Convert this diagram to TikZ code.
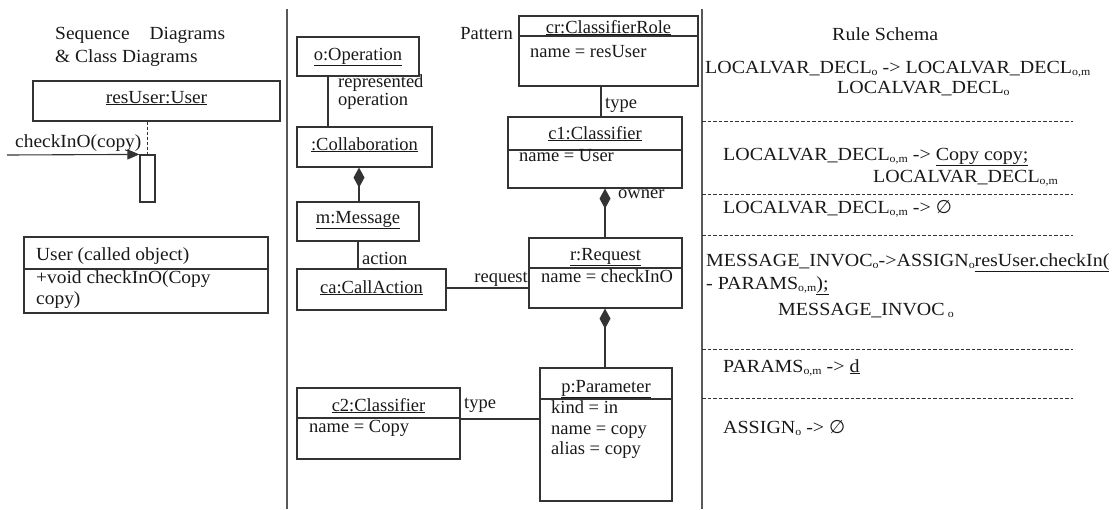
\documentclass[tikz,border=0pt]{standalone}
\usepackage{fontspec}
\setmainfont{Liberation Serif}
\newfontfamily\widefam{Liberation Serif}[FakeStretch=1.05]
\newfontfamily\widerfam{Liberation Serif}[FakeStretch=1.08]
\newfontfamily\symfam{DejaVu Sans}
\usetikzlibrary{arrows.meta,fit}

% body text size and small subscripts
\newcommand\fs{\fontsize{18.5}{21}\selectfont}
\newcommand\lsb[1]{\raisebox{-0.35ex}{\fontsize{11}{11}\selectfont #1}}
\newcommand\nullset{{\symfam ∅}}

\tikzset{
  every node/.style={font=\fs, inner sep=0pt, text=black!90},
  umlbox/.style={draw=black!80, line width=1.2pt, inner sep=0pt},
  txt/.style={anchor=base west},
  ctxt/.style={anchor=base},
  rtxt/.style={anchor=base east},
  link/.style={draw=black!80, line width=1.1pt},
  comp/.style={link, {Diamond[length=20pt,width=11pt]}-},
  sepline/.style={draw=black!65, line width=1.6pt},
  rulesep/.style={draw=black!80, line width=1pt, dash pattern=on 3.5pt off 2pt},
}

\begin{document}
\begin{tikzpicture}[x=1pt,y=-1pt]
\useasboundingbox (0,0) rectangle (1115,509);

% panel separators
\draw[sepline] (287,9) -- (287,509);
\draw[sepline] (702,9) -- (702,509);

% ---------- sequence and class diagram ----------
\begin{scope}[every node/.append style={font=\widefam\fs}]
\node[txt] (title1) at (55,39) {Sequence\hspace{20pt}Diagrams};
\node[txt] (title2) at (55,62) {\& Class Diagrams};

\node[umlbox, fit={(33,81) (280,121)}] (lifehead) {};
\node[ctxt] at (156.5,103) {\underline{resUser:User}};
\node[umlbox, fit={(140,155) (155,202)}] (act) {};
\draw[link, dash pattern=on 3pt off 2pt] (lifehead.south -| act.north) -- (act.north);
\coordinate (caller) at (7,155);
\draw[link, -{Triangle[length=12pt,width=10pt]}] (caller) -- (act.north west);
\node[txt] (msglbl) at (15,147) {checkInO(copy)};

\node[umlbox, fit={(24,237) (268,313)}] (userclass) {};
\draw[link] (userclass.west |- 0,269) -- (userclass.east |- 0,269);
\node[txt] at (36,260) {User (called object)};
\node[txt] at (36,283) {+void checkInO(Copy};
\node[txt] at (36,304) {copy)};
\end{scope}

% ---------- pattern ----------
\node[umlbox, fit={(297,37) (419,76)}] (op) {};
\node[ctxt] at (op.center |- 0,60) {\underline{o:Operation}};

\node[umlbox, fit={(297,127) (432,167)}] (collab) {};
\node[ctxt] at (collab.center |- 0,150) {\underline{:Collaboration}};

\node[umlbox, fit={(297,202) (419,241)}] (msg) {};
\node[ctxt] at (msg.center |- 0,223) {\underline{m:Message}};

\node[umlbox, fit={(297,269) (446,310)}] (call) {};
\node[ctxt] at (call.center |- 0,293) {\underline{ca:CallAction}};

\node[rtxt] (patlbl) at (513,39) {Pattern};
\node[umlbox, fit={(519,16) (698,86)}] (role) {};
\draw[link] (role.west |- 0,36) -- (role.east |- 0,36);
\node[ctxt] at (role.center |- 0,33) {\underline{cr:ClassifierRole}};
\node[txt] at (530,57) {name = resUser};

\node[umlbox, fit={(508,117) (682,188)}] (cls1) {};
\draw[link] (cls1.west |- 0,150) -- (cls1.east |- 0,150);
\node[ctxt] at (cls1.center |- 0,139) {\underline{c1:Classifier}};
\node[txt] at (519,161) {name = User};

\node[umlbox, fit={(529,238) (682,308)}] (req) {};
\draw[link] (req.west |- 0,268) -- (req.east |- 0,268);
\node[ctxt] at (req.center |- 0,260) {\underline{r:Request}};
\node[txt] at (541,282) {name = checkInO};

\node[umlbox, fit={(540,368) (672,501)}] (param) {};
\draw[link] (param.west |- 0,399) -- (param.east |- 0,399);
\node[ctxt] at (param.center |- 0,392) {\underline{p:Parameter}};
\node[txt] at (551,413) {kind = in};
\node[txt] at (551,434) {name = copy};
\node[txt] at (551,454) {alias = copy};

\node[umlbox, fit={(297,388) (460,459)}] (cls2) {};
\draw[link] (cls2.west |- 0,418) -- (cls2.east |- 0,418);
\node[ctxt] at (cls2.center |- 0,411) {\underline{c2:Classifier}};
\node[txt] at (309,432) {name = Copy};

% pattern links
\draw[link] (op.south -| 328,0) -- (collab.north -| 328,0);
\node[txt] at (338,87) {represented};
\node[txt] at (338,105) {operation};
\draw[comp] (collab.south -| 359,0) -- (msg.north -| 359,0);
\draw[link] (msg.south -| 358,0) -- (call.north -| 358,0);
\node[txt] at (362,264) {action};
\draw[link] (call.east |- 0,288) -- (req.west |- 0,288);
\node[rtxt] at (528,282) {request};
\draw[link] (role.south -| 601,0) -- (cls1.north -| 601,0);
\node[txt] at (605,108) {type};
\draw[comp] (cls1.south -| 605,0) -- (req.north -| 605,0);
\node[txt] at (618,198) {owner};
\draw[comp] (req.south -| 605,0) -- (param.north -| 605,0);
\draw[link] (cls2.east |- 0,419) -- (param.west |- 0,419);
\node[txt] at (464,408) {type};

% ---------- rule schema ----------
\begin{scope}[every node/.append style={font=\widerfam\fs}]
\node[txt] at (832,40) {Rule Schema};
\node[txt] at (705,73) {LOCALVAR\_DECL\lsb{o} -> LOCALVAR\_DECL\lsb{o,m}};
\node[txt] at (837,93) {LOCALVAR\_DECL\lsb{o}};
\draw[rulesep] (702,121) -- (1073,121);
\node[txt] at (723,160) {LOCALVAR\_DECL\lsb{o,m} -> \underline{Copy copy;}};
\node[txt] at (873,182) {LOCALVAR\_DECL\lsb{o,m}};
\draw[rulesep] (702,194) -- (1073,194);
\node[txt] at (723,213) {LOCALVAR\_DECL\lsb{o,m} -> \nullset};
\draw[rulesep] (702,235) -- (1073,235);
\node[txt] at (706,266) {MESSAGE\_INVOC\lsb{o}->ASSIGN\lsb{o}\underline{resUser.checkIn(}};
\node[txt] at (706,289) {- PARAMS\lsb{o,m}\underline{);}};
\node[txt] at (778,315) {MESSAGE\_INVOC\,\lsb{o}};
\draw[rulesep] (702,349) -- (1073,349);
\node[txt] at (723,372) {PARAMS\lsb{o,m} -> \underline{d}};
\draw[rulesep] (702,398) -- (1073,398);
\node[txt] at (723,433) {ASSIGN\lsb{o} -> \nullset};
\end{scope}
\end{tikzpicture}
\end{document}
